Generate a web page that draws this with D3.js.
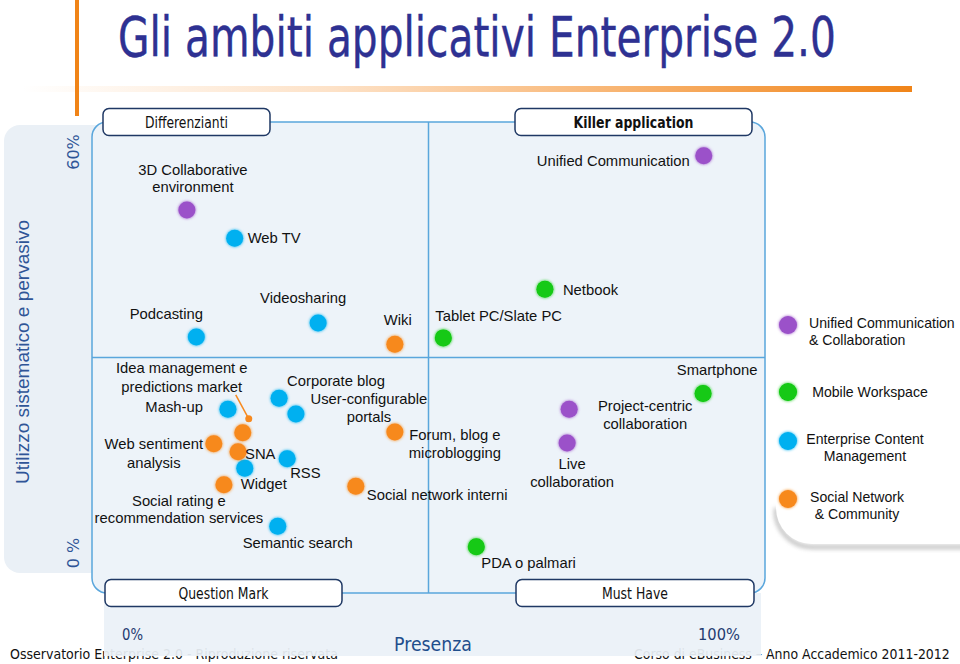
<!DOCTYPE html>
<html><head><meta charset="utf-8">
<script src="https://cdn.jsdelivr.net/npm/d3@7"></script>
<style>
html,body{margin:0;padding:0;background:#fff;}
svg{display:block;}
</style></head>
<body>
<svg id="chart" width="960" height="664"></svg>
<script>
// ---------- DATA ----------
const title = "Gli ambiti applicativi Enterprise 2.0";
const categories = ["Unified Communication & Collaboration", "Mobile Workspace", "Enterprise Content Management", "Social Network & Community"];
const names = ["3D Collaborative environment", "Unified Communication", "Project-centric collaboration", "Live collaboration",
  "Netbook", "Tablet PC/Slate PC", "Smartphone", "PDA o palmari",
  "Web TV", "Podcasting", "Videosharing", "Mash-up", "Corporate blog", "User-configurable portals", "Widget", "RSS", "Semantic search",
  "Wiki", "Idea management e predictions market", "Web sentiment analysis", "SNA", "Social rating e recommendation services", "Forum, blog e microblogging", "Social network interni"];
const presenza = [14.1, 90.9, 70.9, 70.6,
  67.3, 52.2, 90.8, 57.1,
  21.2, 15.5, 33.6, 20.2, 27.8, 30.3, 22.7, 29.0, 27.6,
  45.0, 22.4, 18.1, 21.7, 19.6, 45.0, 39.2];
const utilizzo = [48.8, 55.7, 23.4, 19.1,
  38.7, 32.5, 25.4, 5.9,
  45.2, 32.6, 34.4, 23.4, 24.8, 22.8, 15.9, 17.1, 8.5,
  31.7, 20.4, 19.0, 18.0, 13.8, 20.5, 13.6];
const groupIdx = [0, 0, 0, 0, 1, 1, 1, 1, 2, 2, 2, 2, 2, 2, 2, 2, 2, 3, 3, 3, 3, 3, 3, 3];
const quadrantLabels = ["Differenzianti", "Killer application", "Question Mark", "Must Have"];
const xTickLabels = ["0%", "100%"];
const yTickLabels = ["0 %", "60%"];
const xTitle = "Presenza";
const yTitle = "Utilizzo sistematico e pervasivo";
const footerLeft = "Osservatorio Enterprise 2.0 - Riproduzione riservata";
const footerRight = "Corso di eBusiness \u2013 Anno Accademico 2011-2012";

// ---------- STYLE / LAYOUT ----------
const colors = ["#9B51C9", "#12C912", "#00B0F0", "#F7891E"];
const lineBlue = "#5AA6DC";
const navy = "#1F3864";
const labelLayout = {
  "3D Collaborative environment": {lines: ["3D Collaborative", "environment"], a: "middle", dx: 6, dy: -35},
  "Unified Communication": {lines: ["Unified Communication"], a: "end", dx: -14, dy: 10},
  "Project-centric collaboration": {lines: ["Project-centric", "collaboration"], a: "middle", dx: 76, dy: 2},
  "Live collaboration": {lines: ["Live", "collaboration"], a: "middle", dx: 5, dy: 26},
  "Netbook": {lines: ["Netbook"], a: "start", dx: 18, dy: 6},
  "Tablet PC/Slate PC": {lines: ["Tablet PC/Slate PC"], a: "start", dx: -8, dy: -17},
  "Smartphone": {lines: ["Smartphone"], a: "middle", dx: 14, dy: -19},
  "PDA o palmari": {lines: ["PDA o palmari"], a: "start", dx: 5, dy: 21},
  "Web TV": {lines: ["Web TV"], a: "start", dx: 13, dy: 5},
  "Podcasting": {lines: ["Podcasting"], a: "middle", dx: -30, dy: -18},
  "Videosharing": {lines: ["Videosharing"], a: "middle", dx: -15, dy: -20},
  "Mash-up": {lines: ["Mash-up"], a: "end", dx: -25, dy: 3},
  "Corporate blog": {lines: ["Corporate blog"], a: "start", dx: 8, dy: -12},
  "User-configurable portals": {lines: ["User-configurable", "portals"], a: "middle", dx: 73, dy: -10},
  "Widget": {lines: ["Widget"], a: "start", dx: -4, dy: 21},
  "RSS": {lines: ["RSS"], a: "start", dx: 3, dy: 19},
  "Semantic search": {lines: ["Semantic search"], a: "middle", dx: 20, dy: 22},
  "Wiki": {lines: ["Wiki"], a: "middle", dx: 3, dy: -19},
  "Idea management e predictions market": {lines: ["Idea management e", "predictions market"], a: "middle", dx: -61, dy: -60, lh: 19},
  "Web sentiment analysis": {lines: ["Web sentiment", "analysis"], a: "middle", dx: -60, dy: 5, lh: 19},
  "SNA": {lines: ["SNA"], a: "start", dx: 7, dy: 7},
  "Social rating e recommendation services": {lines: ["Social rating e", "recommendation services"], a: "middle", dx: -45, dy: 21},
  "Forum, blog e microblogging": {lines: ["Forum, blog e", "microblogging"], a: "middle", dx: 60, dy: 8},
  "Social network interni": {lines: ["Social network interni"], a: "start", dx: 11, dy: 14}
};

const svg = d3.select("#chart");
const defs = svg.append("defs");

const grad = defs.append("linearGradient").attr("id", "titleLine").attr("x1", "0").attr("x2", "1");
grad.append("stop").attr("offset", "0").attr("stop-color", "#F7891E").attr("stop-opacity", 0);
grad.append("stop").attr("offset", "0.35").attr("stop-color", "#F7891E").attr("stop-opacity", 0.25);
grad.append("stop").attr("offset", "1").attr("stop-color", "#F08418").attr("stop-opacity", 1);

const glow = defs.append("filter").attr("id", "glow").attr("x", "-50%").attr("y", "-50%").attr("width", "200%").attr("height", "200%");
glow.append("feGaussianBlur").attr("in", "SourceGraphic").attr("stdDeviation", 1.6).attr("result", "b");
const gm = glow.append("feMerge");
gm.append("feMergeNode").attr("in", "b");
gm.append("feMergeNode").attr("in", "SourceGraphic");

const blur = defs.append("filter").attr("id", "blur").attr("x", "-20%").attr("y", "-20%").attr("width", "140%").attr("height", "140%");
blur.append("feGaussianBlur").attr("stdDeviation", 2.2);

// condensed text: measure natural width, then scale horizontally to the target width
function fitText(parent, str, opt) {
  const g = parent.append("g");
  const t = g.append("text").attr("x", 0).attr("y", 0)
    .attr("font-family", opt.family || "'DejaVu Sans', Verdana, sans-serif")
    .attr("font-size", opt.size).attr("font-weight", opt.weight || "normal")
    .attr("fill", opt.fill || "#111").text(str);
  if (opt.stroke) t.attr("stroke", opt.fill).attr("stroke-width", opt.stroke);
  const w = t.node().getComputedTextLength();
  const s = opt.width / w;
  let x0 = opt.x;
  if (opt.anchor === "middle") x0 = opt.x - opt.width / 2;
  if (opt.anchor === "end") x0 = opt.x - opt.width;
  g.attr("transform", `translate(${x0},${opt.y}) scale(${s},1)`);
  return g;
}

// ---------- SCALES ----------
const x = d3.scaleLinear().domain([0, 100]).range([92, 765]);
const y = d3.scaleLinear().domain([0, 60]).range([593, 122]);

// ---------- HEADER ----------
svg.append("rect").attr("x", 22).attr("y", 86).attr("width", 890).attr("height", 6).attr("fill", "url(#titleLine)");
svg.append("rect").attr("x", 75).attr("y", 0).attr("width", 4).attr("height", 116).attr("fill", "#F08418");
fitText(svg, title, {x: 118, y: 56, size: 56, width: 718, fill: "#2E3192", stroke: 0.45});

// ---------- FOOTER (partly hidden by bottom panel) ----------
fitText(svg, footerLeft, {x: 10, y: 659, size: 14.5, width: 328});
fitText(svg, footerRight, {x: 950, y: 659, size: 14.5, width: 316, anchor: "end"});

// ---------- PANELS ----------
svg.append("rect").attr("x", 4).attr("y", 125).attr("width", 110).attr("height", 448).attr("rx", 16).attr("fill", "#EAF0F6");
svg.append("rect").attr("x", 104).attr("y", 593).attr("width", 657).attr("height", 63).attr("fill", "#EBF1F7").attr("opacity", 0.93);
svg.append("path").attr("d", "M776,505 A36,36 0 0 0 812,544 L965,544")
  .attr("fill", "none").attr("stroke", "#8a8a8a").attr("stroke-width", 4).attr("opacity", 0.55)
  .attr("transform", "translate(0,3)").attr("filter", "url(#blur)");
svg.append("path").attr("d", "M776,250 L776,508 A36,36 0 0 0 812,544 L965,544 L965,250 Z").attr("fill", "#fff");

// main quadrant area
svg.append("rect").attr("x", x(0)).attr("y", y(60)).attr("width", x(100) - x(0)).attr("height", y(0) - y(60))
  .attr("rx", 15).attr("fill", "#EDF3F9").attr("stroke", lineBlue).attr("stroke-width", 1.5);
svg.append("line").attr("x1", x(50)).attr("x2", x(50)).attr("y1", y(60)).attr("y2", y(0)).attr("stroke", lineBlue).attr("stroke-width", 1.5);
svg.append("line").attr("x1", x(0)).attr("x2", x(100)).attr("y1", y(30)).attr("y2", y(30)).attr("stroke", lineBlue).attr("stroke-width", 1.5);

// quadrant label boxes
const boxes = [
  {x0: 103, x1: 270, yc: y(60), tl: 83, bold: false},
  {x0: 515, x1: 752, yc: y(60), tl: 120, bold: true},
  {x0: 105, x1: 342, yc: y(0), tl: 90, bold: false},
  {x0: 516, x1: 754, yc: y(0), tl: 66, bold: false}
];
boxes.forEach((b, i) => {
  svg.append("rect").attr("x", b.x0).attr("y", b.yc - 13.5).attr("width", b.x1 - b.x0).attr("height", 27).attr("rx", 6)
    .attr("fill", "#fff").attr("stroke", navy).attr("stroke-width", 1.5);
  fitText(svg, quadrantLabels[i], {x: (b.x0 + b.x1) / 2, y: b.yc + 5.5, size: 15, width: b.tl, anchor: "middle", weight: b.bold ? "bold" : "normal"});
});

// ---------- AXIS TEXT ----------
const blueTxt = "#2F5597";
svg.append("text").attr("transform", "translate(79,152) rotate(-90)").attr("text-anchor", "middle")
  .attr("font-family", "'DejaVu Sans', sans-serif").attr("font-size", 16).attr("fill", blueTxt).text(yTickLabels[1]);
svg.append("text").attr("transform", "translate(79,553) rotate(-90)").attr("text-anchor", "middle")
  .attr("font-family", "'DejaVu Sans', sans-serif").attr("font-size", 16).attr("fill", blueTxt).text(yTickLabels[0]);
svg.append("text").attr("transform", "translate(29,352) rotate(-90)").attr("text-anchor", "middle")
  .attr("font-family", "'Liberation Sans', Arial, sans-serif").attr("font-size", 19).attr("fill", blueTxt).text(yTitle);

fitText(svg, xTickLabels[0], {x: 122, y: 640, size: 16, width: 21, fill: "#1F3B70"});
fitText(svg, xTickLabels[1], {x: 740, y: 640, size: 16, width: 42, anchor: "end", fill: "#1F3B70"});
fitText(svg, xTitle, {x: 433, y: 651, size: 19, width: 78, anchor: "middle", fill: "#1F4E8C"});

// ---------- POINTS ----------
const pts = names.map((n, i) => ({name: n, px: presenza[i], py: utilizzo[i], g: groupIdx[i]}));

const idea = pts.find(p => p.name.startsWith("Idea"));
svg.append("line").attr("x1", x(idea.px) - 7).attr("y1", y(idea.py) - 38).attr("x2", x(idea.px) + 6).attr("y2", y(idea.py) - 14)
  .attr("stroke", colors[3]).attr("stroke-width", 1.5);
svg.append("circle").attr("cx", x(idea.px) + 6).attr("cy", y(idea.py) - 14).attr("r", 3.5).attr("fill", colors[3]);

svg.append("g").selectAll("circle").data(pts).join("circle")
  .attr("cx", d => x(d.px)).attr("cy", d => y(d.py)).attr("r", 8.5)
  .attr("fill", d => colors[d.g]).attr("filter", "url(#glow)");

const lg = svg.append("g").attr("font-family", "'Liberation Sans', Arial, sans-serif").attr("font-size", 14.8).attr("fill", "#111");
pts.forEach(p => {
  const L = labelLayout[p.name];
  const lh = L.lh || 17.5;
  const t = lg.append("text").attr("text-anchor", L.a);
  L.lines.forEach((s, k) => {
    t.append("tspan").attr("x", x(p.px) + L.dx).attr("y", y(p.py) + L.dy + k * lh).text(s);
  });
});

// ---------- LEGEND ----------
const legendY = [325, 392, 441, 499];
const legendLayout = [
  {lines: ["Unified Communication", "& Collaboration"], a: "start", tx: 809},
  {lines: ["Mobile Workspace"], a: "middle", tx: 870},
  {lines: ["Enterprise Content", "Management"], a: "middle", tx: 865},
  {lines: ["Social Network", "& Community"], a: "middle", tx: 857}
];
const legG = svg.append("g").attr("font-family", "'Liberation Sans', Arial, sans-serif").attr("font-size", 14.1).attr("fill", "#111");
categories.forEach((c, i) => {
  legG.append("circle").attr("cx", 788).attr("cy", legendY[i]).attr("r", 9).attr("fill", colors[i]).attr("filter", "url(#glow)");
  const L = legendLayout[i];
  const n = L.lines.length;
  const t = legG.append("text").attr("text-anchor", L.a);
  L.lines.forEach((s, k) => {
    t.append("tspan").attr("x", L.tx).attr("y", legendY[i] + (n === 1 ? 5 : 3) + k * 17).text(s);
  });
});
</script>
</body></html>
